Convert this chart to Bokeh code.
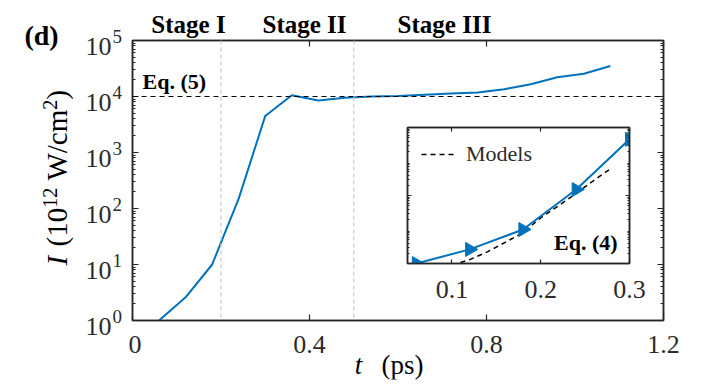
import numpy as np
from bokeh.plotting import figure
from bokeh.models import (Range1d, LinearAxis, LogAxis, FixedTicker, Span, Label, Legend,
                          LegendItem, CustomJSTickFormatter)
from bokeh.layouts import column
from bokeh.embed import file_html
from bokeh.resources import INLINE

# ---------------- data ----------------
t_main = [0.06, 0.12, 0.18, 0.24, 0.30, 0.36, 0.42, 0.48, 0.54, 0.60,
          0.66, 0.72, 0.78, 0.84, 0.90, 0.96, 1.02, 1.08]
I_main = [1.0, 2.6, 10.0, 150.0, 4500.0, 10500.0, 8500.0, 9500.0, 10000.0, 10200.0,
          10800.0, 11300.0, 11800.0, 13500.0, 16500.0, 22000.0, 25500.0, 35000.0]

t_inset = [0.06, 0.12, 0.18, 0.24, 0.30]
I_inset = [1.0, 2.6, 10.0, 150.0, 4500.0]

t_model = [0.10, 0.12, 0.14, 0.16, 0.18, 0.20, 0.22, 0.24, 0.26, 0.28]
I_model = [0.9, 1.3, 2.2, 4.2, 8.0, 22.0, 50.0, 115.0, 280.0, 650.0]

stage_bounds = [0.2, 0.5]
eq5_level = 1e4
stage_names = ["Stage I", "Stage II", "Stage III"]

x_ticks_main = [0, 0.4, 0.8, 1.2]
y_ticks_main = [1e0, 1e1, 1e2, 1e3, 1e4, 1e5]
y_exp_main = ["0", "1", "2", "3", "4", "5"]
x_ticks_inset = [0.1, 0.2, 0.3]
y_ticks_inset = [1e0, 1e2, 1e4]
y_exp_inset = ["0", "2", "4"]

# ---------------- layout constants (page pixels) ----------------
BLUE = "#0072BD"
AX = "#262626"
TXT = "#2b2b2b"
SERIF = "Liberation Serif"

W, H = 700, 383                      # page area used
B = 4                                # thin border kept around every frame
FX, FY, FW, FH = 132, 40, 531, 280   # main frame
IX, IY, IFW, IFH = 407, 127, 222, 136  # inset frame
P_BOTTOM = 50
P_RIGHT = 26
I_BOTTOM = 44
I_RIGHT = 22

minor_main = [m * 10.0 ** k for k in range(5) for m in range(2, 10)]
minor_inset = [m * 10.0 ** k for k in range(4) for m in range(2, 10)]


def page_y(v, top, height, lo, hi):
    """page row of value v on a log axis (used to place the 10^k tick texts)"""
    return top + height * (np.log10(hi) - np.log10(v)) / (np.log10(hi) - np.log10(lo))


def style_axis(ax, show_labels=True, major_in=6, minor_in=3):
    ax.axis_line_color = AX
    ax.axis_line_width = 1.5
    ax.major_tick_in = major_in
    ax.major_tick_out = 0
    ax.minor_tick_in = minor_in
    ax.minor_tick_out = 0
    ax.major_tick_line_color = AX
    ax.minor_tick_line_color = AX
    ax.major_tick_line_width = 1.2
    ax.minor_tick_line_width = 1
    ax.major_label_text_font = SERIF
    ax.major_label_text_color = TXT
    ax.major_label_text_font_size = "26px"
    ax.major_label_standoff = 10
    if not show_labels:
        ax.formatter = CustomJSTickFormatter(code="return '';")
        ax.major_label_standoff = 0
    ax.axis_label = None


# ---------------- text layer (bottom) ----------------
bg = figure(frame_width=W - 2 * B, frame_height=H - 2 * B, min_border=B,
            x_range=Range1d(0, 1), y_range=Range1d(0, 1),
            x_axis_location=None, y_axis_location=None,
            output_backend="svg", toolbar_location=None,
            outline_line_color=None, background_fill_color="white",
            border_fill_color="white")
bg.grid.visible = False


def clabel(x, y, text, size, style="normal", align="left", baseline="middle",
           color="black", angle=0.0):
    bg.add_layout(Label(x=x, y=y, x_units="canvas", y_units="canvas", text=text,
                        text_align=align, text_baseline=baseline, angle=angle,
                        text_font=SERIF, text_font_size=size, text_font_style=style,
                        text_color=color))


# main y tick labels 10^k
for yt, ex in zip(y_ticks_main, y_exp_main):
    cy = page_y(yt, FY, FH, 1, 1e5)
    clabel(111, cy + 6, "10", "26px", align="right", color=TXT)
    clabel(112, cy - 4, ex, "19px", align="left", color=TXT)
# inset y tick labels 10^k
for yt, ex in zip(y_ticks_inset, y_exp_inset):
    cy = page_y(yt, IY, IFH, 1, 1e4)
    clabel(388, cy + 5, "10", "26px", align="right", color=TXT)
    clabel(389, cy - 4, ex, "19px", align="left", color=TXT)

for name, cx in zip(stage_names, [188, 304, 444]):
    clabel(cx, 24, name, "25px", style="bold", align="center")
clabel(41, 35, "(d)", "28px", style="bold", align="center")

# x axis label
clabel(358, 364, "t", "27px", style="italic", align="center")
clabel(381, 364, "(ps)", "27px")

# y axis label, rotated, written piece by piece so the powers are real superscripts
FS, SS = 29, 20           # base / superscript font sizes (px)
XB, XS = 56, 49           # column of base text / superscripts
ROT = np.pi / 2
clabel(XB, 265, "I", f"{FS}px", style="italic", angle=ROT)
yy = 246
clabel(XB, yy, "(10", f"{FS}px", angle=ROT)
yy -= (0.333 + 1.0) * FS
clabel(XS, yy, "12", f"{SS}px", angle=ROT)
yy -= 1.0 * SS + 0.25 * FS
clabel(XB, yy, "W/cm", f"{FS}px", angle=ROT)
yy -= (0.944 + 0.278 + 0.444 + 0.778) * FS
clabel(XS, yy, "2", f"{SS}px", angle=ROT)
yy -= 0.5 * SS
clabel(XB, yy, ")", f"{FS}px", angle=ROT)

# ---------------- main figure ----------------
p = figure(frame_width=FW, frame_height=FH,
           x_range=Range1d(0, 1.2), y_range=Range1d(1, 1e5), y_axis_type="log",
           output_backend="svg", toolbar_location=None,
           min_border_left=B, min_border_right=P_RIGHT, min_border_top=B,
           min_border_bottom=P_BOTTOM,
           background_fill_color="white", border_fill_color=None)
p.xgrid.visible = False
p.ygrid.visible = False
p.outline_line_color = AX
p.outline_line_width = 1.5

p.xaxis.ticker = FixedTicker(ticks=x_ticks_main)
p.xaxis.major_label_overrides = {0: "0", 0.4: "0.4", 0.8: "0.8", 1.2: "1.2"}
style_axis(p.xaxis[0], True)
p.xaxis.major_label_standoff = 15
p.yaxis.ticker = FixedTicker(ticks=y_ticks_main, minor_ticks=minor_main)
style_axis(p.yaxis[0], False)

top_ax = LinearAxis(ticker=FixedTicker(ticks=x_ticks_main))
style_axis(top_ax, False)
p.add_layout(top_ax, "above")
right_ax = LogAxis(ticker=FixedTicker(ticks=y_ticks_main, minor_ticks=minor_main))
style_axis(right_ax, False)
p.add_layout(right_ax, "right")

for b in stage_bounds:
    p.add_layout(Span(location=b, dimension="height", line_color="#c8c8c8",
                      line_dash="4 3", line_width=1.2))
p.add_layout(Span(location=eq5_level, dimension="width", line_color="black",
                  line_dash="5 4", line_width=1.2))

p.line(t_main, I_main, line_color=BLUE, line_width=2)

p.add_layout(Label(x=0.0226, y=10 ** 4.26, text="Eq. (5)", text_align="left",
                   text_baseline="middle", text_font=SERIF, text_font_size="22px",
                   text_font_style="bold", text_color="black"))

# ---------------- inset ----------------
ins = figure(frame_width=IFW, frame_height=IFH,
             x_range=Range1d(0.05, 0.3), y_range=Range1d(1, 1e4), y_axis_type="log",
             output_backend="svg", toolbar_location=None,
             min_border_left=B, min_border_right=I_RIGHT, min_border_top=B,
             min_border_bottom=I_BOTTOM,
             background_fill_color="white", border_fill_color=None, outline_line_color=AX)
ins.xgrid.visible = False
ins.ygrid.visible = False
ins.outline_line_width = 1.5
ins.xaxis.ticker = FixedTicker(ticks=x_ticks_inset)
style_axis(ins.xaxis[0], True, major_in=4)
ins.xaxis.major_label_standoff = 17
ins.yaxis.ticker = FixedTicker(ticks=y_ticks_inset, minor_ticks=minor_inset)
style_axis(ins.yaxis[0], False, major_in=4, minor_in=2)
itop = LinearAxis(ticker=FixedTicker(ticks=x_ticks_inset))
style_axis(itop, False, major_in=4)
ins.add_layout(itop, "above")
iright = LogAxis(ticker=FixedTicker(ticks=y_ticks_inset, minor_ticks=minor_inset))
style_axis(iright, False, major_in=4, minor_in=2)
ins.add_layout(iright, "right")

mr = ins.line(t_model, I_model, line_color="black", line_dash="5 4", line_width=1.5)
ins.line(t_inset, I_inset, line_color=BLUE, line_width=2)
ins.scatter(t_inset, I_inset, marker="triangle", angle=-np.pi / 2, size=14,
            fill_color=BLUE, line_color=BLUE)

ins.add_layout(Label(x=0.215, y=10 ** 0.63, text="Eq. (4)", text_align="left",
                     text_baseline="middle", text_font=SERIF, text_font_size="22px",
                     text_font_style="bold", text_color="black"))

leg = Legend(items=[LegendItem(label="Models", renderers=[mr])], location="top_left",
             glyph_width=35, glyph_height=24, label_height=24, label_standoff=10,
             padding=0, margin=14, border_line_alpha=0, background_fill_alpha=0,
             label_text_font=SERIF, label_text_font_size="22px", label_text_color=TXT)
ins.add_layout(leg)

# stack the three canvases on top of each other
p_top = FY - B
p_height = B + FH + P_BOTTOM
p.margin = (p_top - H, 0, 0, FX - B)
ins.margin = ((IY - B) - (p_top + p_height), 0, 0, IX - B)

layout = column(bg, p, ins)
open("out.html", "w").write(file_html(layout, INLINE))
